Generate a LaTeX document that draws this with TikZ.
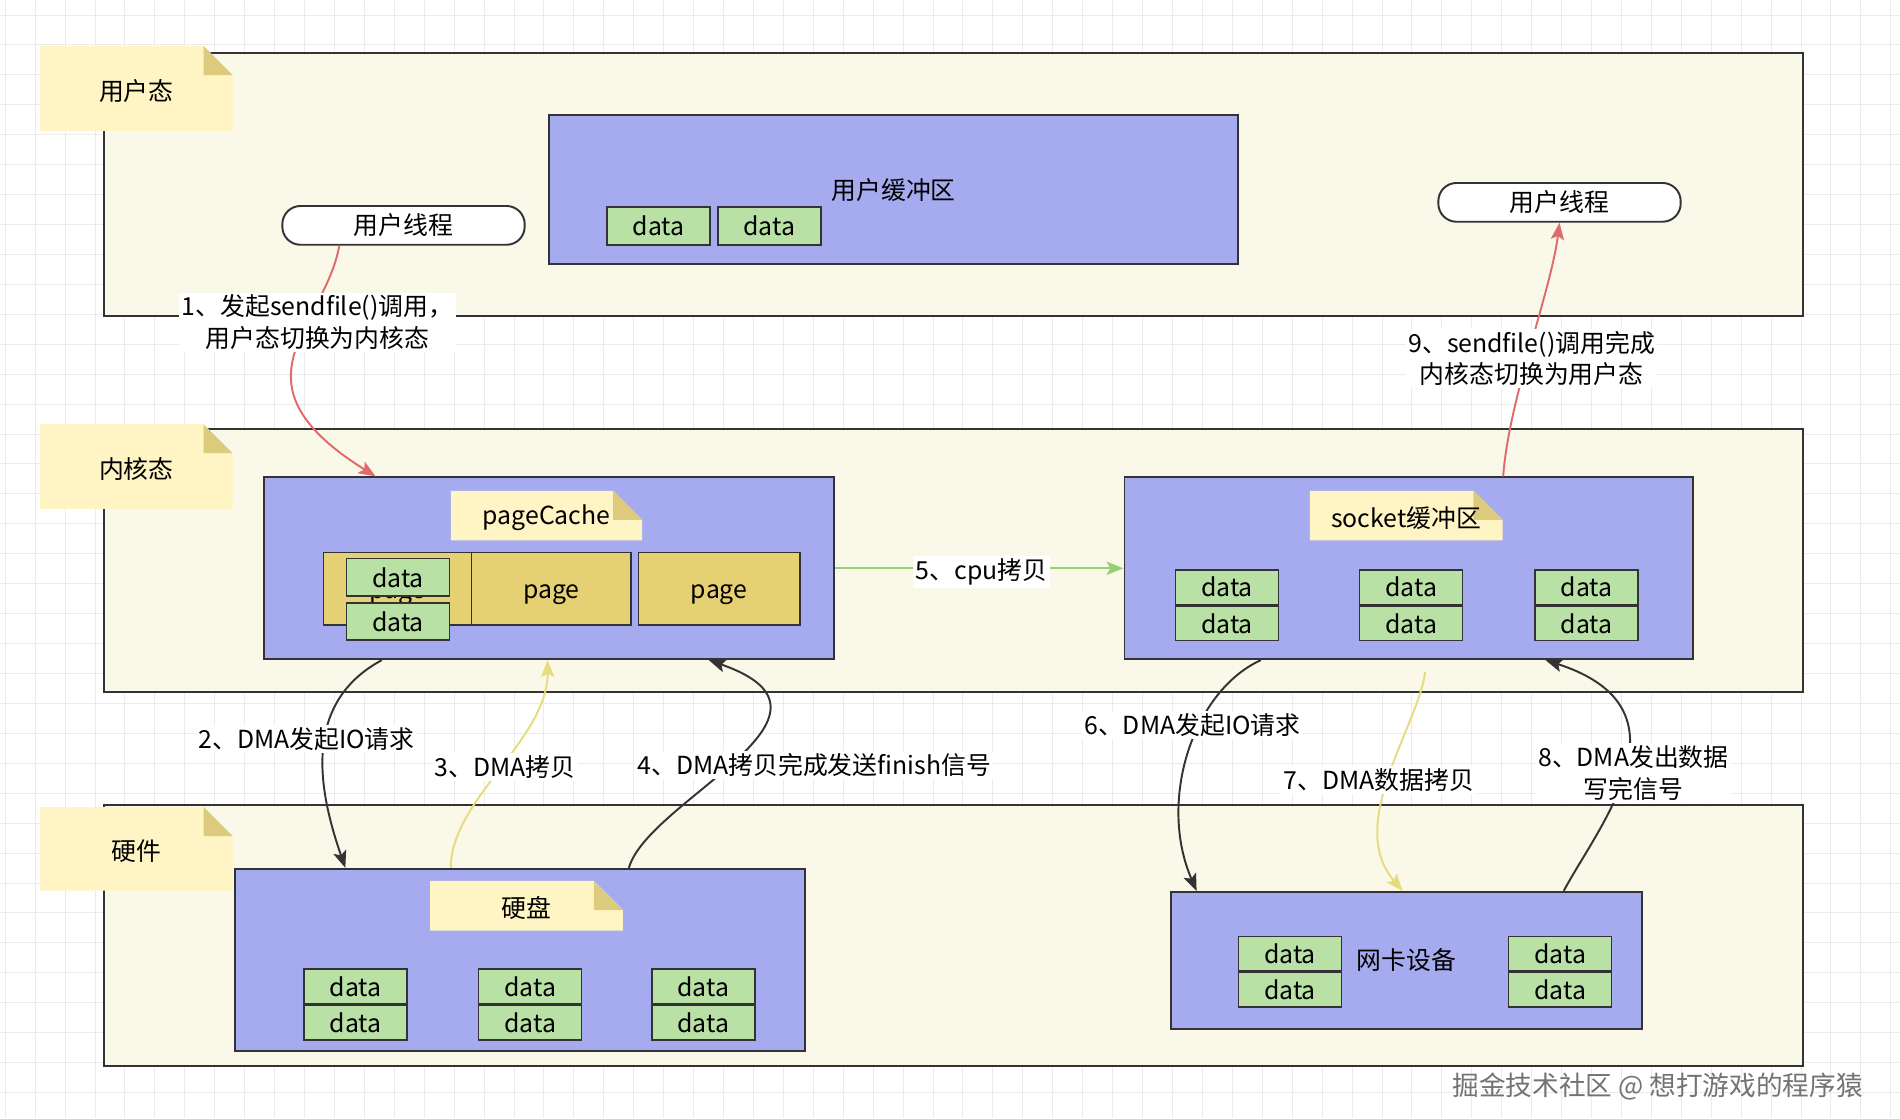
\documentclass[tikz,border=0pt]{standalone}
\usepackage{fontspec}
\setmainfont{Noto Sans CJK SC}
\usepackage{xcolor}
\usetikzlibrary{arrows.meta,positioning,calc}

\definecolor{zonefill}{HTML}{FAF8E8}
\definecolor{bufblue}{HTML}{A5ABEE}
\definecolor{datagreen}{HTML}{B9E0A5}
\definecolor{pageyellow}{HTML}{E6D074}
\definecolor{notefill}{HTML}{FFF4C4}
\definecolor{notefold}{HTML}{DDCB7D}
\definecolor{linegray}{HTML}{333333}
\definecolor{redflow}{HTML}{E06B6B}
\definecolor{yellowflow}{HTML}{E8DB7E}
\definecolor{greenflow}{HTML}{97D077}
\definecolor{gridgray}{HTML}{EBEBEB}

% sticky note: name, centre x, centre y, width, height, text
\newcommand{\stickynote}[6]{%
  \fill[notefill] ({#2-#4/2},{#3-#5/2}) -- ({#2+#4/2-24},{#3-#5/2}) -- ({#2+#4/2},{#3-#5/2+24})
    -- ({#2+#4/2},{#3+#5/2}) -- ({#2-#4/2},{#3+#5/2}) -- cycle;
  \fill[notefold] ({#2+#4/2-24},{#3-#5/2}) -- ({#2+#4/2-24},{#3-#5/2+24}) -- ({#2+#4/2},{#3-#5/2+24}) -- cycle;
  \node (#1) at (#2,#3+2) {#6};
}

\begin{document}
\begin{tikzpicture}[x=1pt,y=-1pt,font=\fontsize{20.5}{26}\selectfont,
  zone/.style={draw=linegray,fill=zonefill,line width=1.6pt,minimum width=1402pt},
  bufbox/.style={draw=linegray,fill=bufblue,line width=1.6pt,inner sep=0pt},
  databox/.style={draw=linegray,fill=datagreen,line width=1.4pt,inner sep=0pt,minimum width=85pt,minimum height=28.5pt},
  pagebox/.style={draw=linegray,fill=pageyellow,line width=1.4pt,inner sep=0pt,minimum height=60pt,text height=16pt,text depth=0pt},
  thread/.style={draw=linegray,fill=white,line width=1.6pt,rounded corners=15pt,minimum width=200pt,minimum height=32pt},
  flow/.style={line width=1.6pt,-{Stealth[length=14pt,width=11pt,inset=3pt]}},
  lbl/.style={fill=white,inner sep=2pt,align=center}]

  \fill[white] (0,0) rectangle (1568,923);
  \useasboundingbox (0,0) rectangle (1568,923);
  \foreach \gx in {0,...,63} \draw[gridgray,line width=0.8pt] ({4.3+24.7*\gx},0) -- ++(0,923);
  \foreach \gy in {0,...,37} \draw[gridgray,line width=0.8pt] (0,{12.4+24.7*\gy}) -- ++(1568,0);

  % three layers
  \node[zone,minimum height=217pt] (userZone) at (787,152.5) {};
  \node[zone,minimum height=217pt] (kernelZone) at (787,462.5) {};
  \node[zone,minimum height=216pt] (hwZone) at (787,772) {};
  \stickynote{userNote}{112.5}{73}{159}{70}{用户态}
  \stickynote{kernelNote}{112.5}{385}{159}{70}{内核态}
  \stickynote{hwNote}{112.5}{700.5}{159}{69}{硬件}

  % user space
  \node[bufbox,minimum width=569pt,minimum height=123pt] (userBuf) at (737.5,156.5) {用户缓冲区};
  \node[databox,minimum height=31pt] (uData1) at (543.5,186.5) {data};
  \node[databox,minimum height=31pt,right=5pt of uData1] (uData2) {data};
  \node[thread] (uThreadA) at (333,186) {用户线程};
  \node[thread] (uThreadB) at (1287,167) {用户线程};

  % kernel space
  \node[bufbox,minimum width=470pt,minimum height=150pt] (pageCache) at (453,469) {};
  \stickynote{pcNote}{451}{425.5}{158}{41}{pageCache}
  \node[pagebox,minimum width=122pt] (pageA) at (328,486) {page};
  \node[pagebox,minimum width=132pt] (pageB) at (455,486) {page};
  \node[pagebox,minimum width=133pt] (pageC) at (593.5,486) {page};
  \node[databox,minimum height=31pt] (pcData1) at (328.5,476.5) {data};
  \node[databox,minimum height=31pt,below=4pt of pcData1] (pcData2) {data};

  \node[bufbox,minimum width=469pt,minimum height=150pt] (socketBuf) at (1162.5,469) {};
  \stickynote{sockNote}{1160.5}{425.5}{159}{41}{socket缓冲区}
  \node[databox] (sData1) at (1012.5,484.5) {data};
  \node[databox,below=0pt of sData1] (sData2) {data};
  \node[databox] (sData3) at (1164.5,484.5) {data};
  \node[databox,below=0pt of sData3] (sData4) {data};
  \node[databox] (sData5) at (1309.5,484.5) {data};
  \node[databox,below=0pt of sData5] (sData6) {data};

  % hardware
  \node[bufbox,minimum width=470pt,minimum height=150pt] (disk) at (429,792) {};
  \stickynote{diskNote}{434.5}{747.5}{159}{41}{硬盘}
  \node[databox] (dData1) at (293.5,814) {data};
  \node[databox,below=0pt of dData1] (dData2) {data};
  \node[databox] (dData3) at (437.5,814) {data};
  \node[databox,below=0pt of dData3] (dData4) {data};
  \node[databox] (dData5) at (580.5,814) {data};
  \node[databox,below=0pt of dData5] (dData6) {data};

  \node[bufbox,minimum width=389pt,minimum height=113pt] (nic) at (1160.5,792.5) {网卡设备};
  \node[databox] (nData1) at (1064.5,787) {data};
  \node[databox,below=0pt of nData1] (nData2) {data};
  \node[databox] (nData3) at (1287.5,787) {data};
  \node[databox,below=0pt of nData3] (nData4) {data};

  % steps
  \draw[flow,redflow] ([xshift=-53pt]uThreadA.south) .. controls (268,270) and (185,315) .. ([xshift=-143pt]pageCache.north);
  \draw[flow,linegray] ([xshift=-138pt]pageCache.south) .. controls (250,580) and (262,650) .. ([xshift=-144pt]disk.north);
  \draw[flow,yellowflow] ([xshift=-57pt]disk.north) .. controls (372,660) and (452,610) .. ([xshift=-1pt]pageCache.south);
  \draw[flow,linegray] ([xshift=90pt]disk.north) .. controls (535,660) and (715,590) .. ([xshift=132pt]pageCache.south);
  \draw[flow,greenflow] (pageCache.east) -- (socketBuf.west);
  \draw[flow,linegray] ([xshift=-122pt]socketBuf.south) .. controls (985,570) and (955,660) .. ([xshift=-173pt]nic.north);
  \draw[flow,yellowflow,shorten <=10pt] ([xshift=15pt]socketBuf.south) .. controls (1170,600) and (1110,680) .. ([xshift=-3pt]nic.north);
  \draw[flow,linegray] ([xshift=130pt]nic.north) .. controls (1320,680) and (1400,585) .. ([xshift=113pt]socketBuf.south);
  \draw[flow,redflow] ([xshift=78pt]socketBuf.north) .. controls (1245,330) and (1280,240) .. (uThreadB.south);

  \node[lbl] (step1) at (262,266) {1、发起sendfile()调用，\\用户态切换为内核态};
  \node[lbl] (step2) at (253,610) {2、DMA发起IO请求};
  \node[lbl] (step3) at (417,633) {3、DMA拷贝};
  \node[lbl] (step4) at (672,631) {4、DMA拷贝完成发送finish信号};
  \node[lbl] (step5) at (810,472) {5、cpu拷贝};
  \node[lbl] (step6) at (984,598) {6、DMA发起IO请求};
  \node[lbl] (step7) at (1138,644) {7、DMA数据拷贝};
  \node[lbl] (step8) at (1348,638) {8、DMA发出数据\\写完信号};
  \node[lbl] (step9) at (1264,296) {9、sendfile()调用完成\\内核态切换为用户态};

  \node[text=black!55,font=\fontsize{22}{24}\selectfont] (mark) at (1368,897) {掘金技术社区 @ 想打游戏的程序猿};
\end{tikzpicture}
\end{document}
